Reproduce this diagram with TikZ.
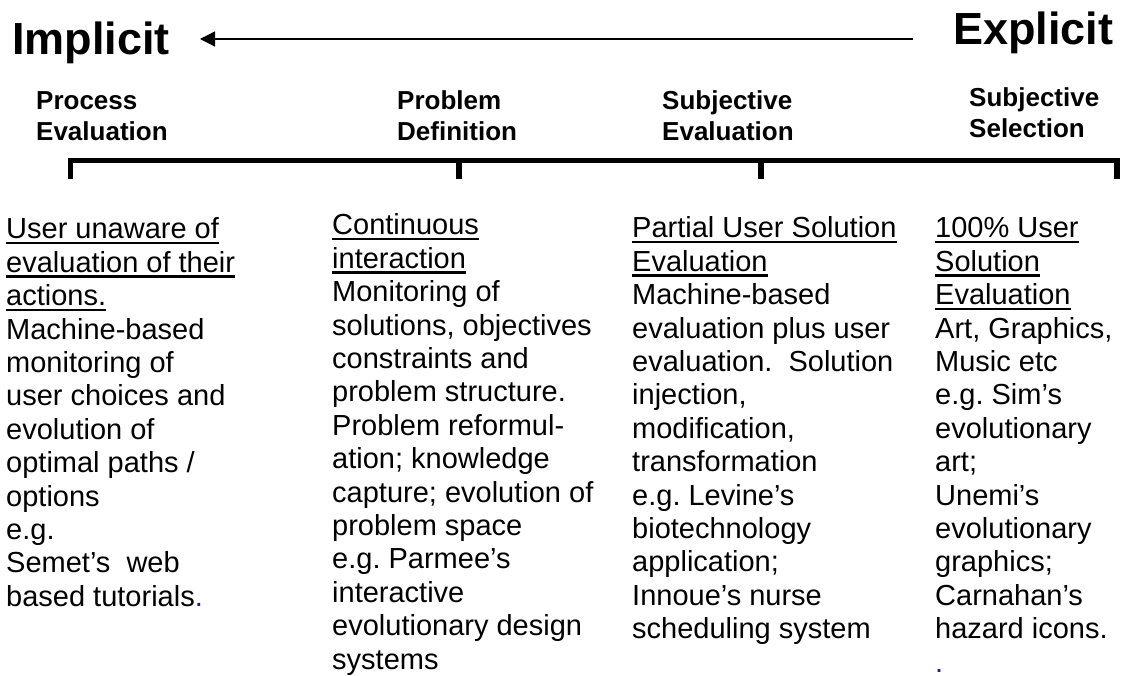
\documentclass[tikz,border=0pt]{standalone}
\usepackage{fontspec}
\setmainfont{Liberation Sans}
\usepackage{tikz}
\usetikzlibrary{arrows.meta}
\definecolor{navy}{HTML}{1F1F8C}
\frenchspacing

% underline at a fixed depth below the baseline
\newsavebox\ulbox
\newcommand{\ulline}[1]{\sbox\ulbox{#1}\usebox\ulbox\llap{\rule[-5.2pt]{\wd\ulbox}{2.4pt}}}
\newcommand{\blockof}[1]{\parbox[t]{330pt}{\raggedright #1}}

\tikzset{
  endword/.style={anchor=base west,inner sep=0pt,font=\fontsize{45}{50}\selectfont\bfseries},
  stage/.style={anchor=base west,inner sep=0pt,font=\fontsize{26}{30.5}\selectfont\bfseries},
  detail/.style={anchor=base west,inner sep=0pt,font=\fontsize{29}{33.4}\selectfont},
}

\begin{document}
\begin{tikzpicture}[x=1pt,y=1pt]
\useasboundingbox (0,0) rectangle (1121,675);

% scale ends
\node[endword] (implicit) at (12,620) {Implicit};
\node[endword] (explicit) at (953,630) {Explicit};
\coordinate (arrowstart) at (913,636);
\coordinate (arrowtip) at (200,636);
\draw[-{Triangle[length=15pt,width=15pt]},line width=1.3pt] (arrowstart) -- (arrowtip);

% stage headings
\node[stage] (process) at (36,565) {\blockof{Process\\Evaluation}};
\node[stage] (problem) at (397,565) {\blockof{Problem\\Definition}};
\node[stage] (subjeval) at (662,565) {\blockof{Subjective\\Evaluation}};
\node[stage] (subjsel) at (969,568) {\blockof{Subjective\\Selection}};

% timeline with ticks
\coordinate (t1) at (70.5,514.5);
\coordinate (t2) at (459,514.5);
\coordinate (t3) at (761,514.5);
\coordinate (t4) at (1117,514.5);
\draw[line width=5.5pt,line join=miter] ([yshift=-18.5pt]t1) -- (t1) -- (t4) -- ([yshift=-18.5pt]t4);
\draw[line width=5.5pt] (t2) -- ([yshift=-18.5pt]t2);
\draw[line width=5.5pt] (t3) -- ([yshift=-18.5pt]t3);

% descriptions
\node[detail] (implicitcol) at (6,436) {\blockof{%
\ulline{User unaware of}\\
\ulline{evaluation of their}\\
\ulline{actions.}\\
Machine-based\\
monitoring of\\
user choices and\\
evolution of\\
optimal paths /\\
options\\
e.g.\\
Semet’s\ \ web\\
based tutorials\textcolor{navy}{.}}};

\node[detail] (continuouscol) at (332,440) {\blockof{%
\ulline{Continuous}\\
\ulline{interaction}\\
Monitoring of\\
solutions, objectives\\
constraints and\\
problem structure.\\
Problem reformul-\\
ation; knowledge\\
capture; evolution of\\
problem space\\
e.g. Parmee’s\\
interactive\\
evolutionary design\\
systems}};

\node[detail] (partialcol) at (632,437) {\blockof{%
\ulline{Partial User Solution}\\
\ulline{Evaluation}\\
Machine-based\\
evaluation plus user\\
evaluation.\ \ Solution\\
injection,\\
modification,\\
transformation\\
e.g. Levine’s\\
biotechnology\\
application;\\
Innoue’s nurse\\
scheduling system}};

\node[detail] (fullcol) at (935,437) {\blockof{%
\ulline{100\% User}\\
\ulline{Solution}\\
\ulline{Evaluation}\\
Art, Graphics,\\
Music etc\\
e.g. Sim’s\\
evolutionary\\
art;\\
Unemi’s\\
evolutionary\\
graphics;\\
Carnahan’s\\
hazard icons.\\
\textcolor{navy}{.}}};
\end{tikzpicture}
\end{document}
